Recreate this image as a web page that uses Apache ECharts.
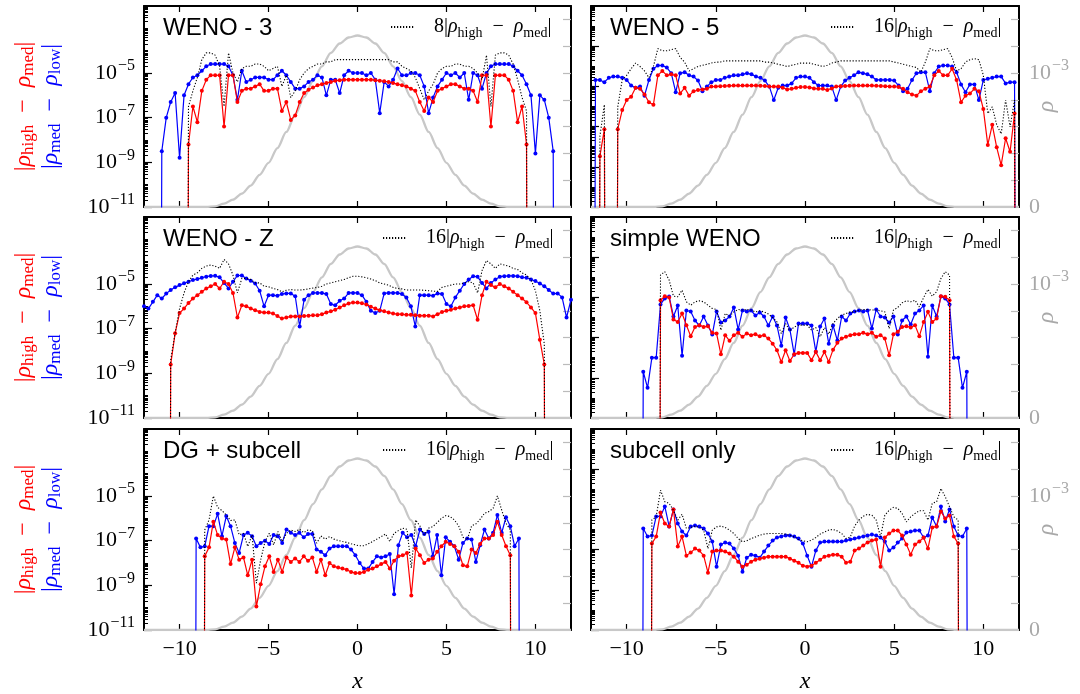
<!DOCTYPE html>
<html>
<head>
<meta charset="utf-8">
<script src="https://cdn.jsdelivr.net/npm/echarts@6/dist/echarts.min.js"></script>
<style>
  html, body { margin: 0; padding: 0; background: #fff; }
  #chart { width: 1080px; height: 694px; }
</style>
</head>
<body>
<div id="chart"></div>
<script>
// values are log10 of the differences; Z marks a difference of exactly 0 (log = -inf)
var Z = null;
var FLOOR = -80;

var X_TICKS = [-10, -5, 0, 5, 10];
var LEFT_LOG_MAJOR = [-11, -9, -7, -5];
var RIGHT_LOG_MAJOR = [-12, -10, -8, -6, -4];
var RHO_TICKS = [0.2, 0.4, 0.6, 0.8, 1.0, 1.2, 1.4];   // in units of 1e-3
var RHO_LABELS = [0, 1];

var TITLES = ['WENO - 3', 'WENO - 5', 'WENO - Z', 'simple WENO', 'DG + subcell', 'subcell only'];
var FACTORS = ['8', '16', '16', '16', '16', '16'];

var DX_C = 0.25;     // WENO grids
var DX_F = 0.2419;   // simple WENO / subcell grids

// density profile (units of 1e-3), x from -12 to 12 step 0.5
var RHO_X0 = -12, RHO_DX = 0.5;
var RHO = [0, 0, 0, 0, 0, 0, 0, 0, 0.005, 0.025, 0.055, 0.10, 0.16, 0.24, 0.33, 0.44, 0.56,
  0.69, 0.82, 0.94, 1.05, 1.15, 1.22, 1.265, 1.28, 1.265, 1.22, 1.15, 1.05, 0.94, 0.82, 0.69,
  0.56, 0.44, 0.33, 0.24, 0.16, 0.10, 0.055, 0.025, 0.005, 0, 0, 0, 0, 0, 0, 0, 0];

// WENO - 3
var W3_BLUE_X0 = -11.25;
var W3_BLUE = [Z, -8.5, -7.0, -6.3, -5.9, -8.8, -6.0, -5.5, -5.2, -5.1, -4.9,
  -4.7, -4.6, -4.6, -4.6, -4.6, -4.7, -5.1, -6.2, -4.9, -5.4,
  -5.3, -5.2, -5.2, -5.2, -5.3, -5.3, -5.1, -4.9, -5.1, -5.4,
  -5.7, -5.7, -5.6, -5.4, -5.3, -5.1, -5.2, -6.0, -5.3, -5.3,
  -5.9, -5.1, -4.9, -5.0, -5.0, -5.0, -5.1, -5.0, -5.3,
  -6.8, -5.4, -5.6, -5.3, -4.8, -5.1, -5.1, -5.0, -5.0, -5.1,
  -5.6, -6.8, -6.1, -5.6, -5.3, -5.0, -5.1, -5.0, -5.2, -5.0,
  -6.2, -5.0, -5.1, -5.7, -5.0, -4.7, -4.6, -4.6, -4.6, -4.6,
  -4.7, -4.9, -5.1, -5.5, -6.0, -8.6, -6.0, -6.2, -7.0, -8.5, Z];
var W3_RED_X0 = -9.75;
var W3_RED = [Z, -8.2, -6.5, -7.2, -5.8, -5.3, -5.1, -5.1, -5.1, -7.4, -5.1,
  -5.1, -6.3, -5.8, -5.7, -5.7, -5.6, -5.5, -5.8, -5.8, -5.7,
  -5.7, -6.7, -6.3, -7.1, -6.9, -6.3, -5.9, -5.75, -5.65, -5.55,
  -5.5, -5.45, -5.4, -5.35, -5.32, -5.3, -5.3, -5.3, -5.3, -5.3,
  -5.3, -5.3, -5.32, -5.35, -5.37, -5.4, -5.45, -5.5, -5.55, -5.6,
  -5.7, -5.8, -6.3, -6.7, -6.1, -6.3, -5.8, -5.7, -5.6, -5.5,
  -5.5, -5.6, -5.7, -5.7, -5.8, -6.3, -5.1, -5.1, -7.4, -5.1,
  -5.1, -5.1, -5.3, -5.8, -7.2, -6.5, -8.2, Z];
var W3_DOT = [Z, -6.5, -5.8, -5.2, -4.4, -4.1, -4.1, -4.2, -4.7, -6.5, -4.1,
  -5.0, -5.4, -4.8, -4.7, -4.7, -4.6, -4.6, -4.7, -4.9, -4.8,
  -4.7, -5.6, -5.1, -6.1, -5.8, -5.3, -5.0, -4.8, -4.7, -4.6,
  -4.6, -4.5, -4.5, -4.4, -4.4, -4.4, -4.4, -4.4, -4.4, -4.4,
  -4.4, -4.4, -4.4, -4.4, -4.4, -4.4, -4.5, -4.5, -4.7, -4.8,
  -4.9, -5.2, -5.7, -6.2, -5.8, -5.5, -5.0, -4.8, -4.7, -4.7,
  -4.6, -4.6, -4.7, -4.7, -4.8, -5.0, -5.3, -4.2, -6.5, -4.2,
  -4.1, -4.1, -4.2, -4.6, -5.3, -6.1, -6.7, Z];

// WENO - 5
var W5_BLUE_X0 = -12;
var W5_BLUE = [Z, -5.68, -5.68, -5.79, -5.57, -5.51, -5.51, -5.57, -5.68, -5.96, -6.07,
  -6.01, -6.46, -5.68, -5.12, -4.96, -4.96, -5.06, -5.34, -6.29, -5.34,
  -5.3, -5.45, -5.51, -5.71, -6.24, -6.01, -5.79, -5.68, -5.68, -5.57,
  -5.51, -5.45, -5.45, -5.4, -5.34, -5.4, -5.51, -5.57, -5.71, -6.01,
  -6.68, -6.07, -5.96, -5.96, -5.85, -5.57, -5.51, -5.51, -5.57, -5.79,
  -5.96, -5.96, -5.96, -6.01, -6.68, -6.01, -5.71, -5.57, -5.45, -5.3,
  -5.34, -5.4, -5.51, -5.68, -5.68, -5.68, -5.68, -5.71, -5.96, -6.24,
  -6.12, -5.68, -5.34, -5.3, -5.3, -6.24, -5.34, -5.01, -4.96, -4.96,
  -5.01, -5.3, -5.9, -6.29, -5.9, -5.9, -6.68, -5.68, -5.62, -5.57,
  -5.51, -5.51, -5.85, -5.79, -5.79, Z];
var W5_RED_X0 = -11.75;
var W5_RED = [Z, -9.47, -8.13, Z, Z, -8.13, -7.18, -6.68, -6.51, -6.07,
  -6.12, -6.4, -6.79, -6.91, -5.45, -5.23, -5.45, -5.4, -5.45, -6.35,
  -6.07, -6.46, -6.24, -6.18, -6.15, -6.12, -6.01, -6.01, -5.99, -5.98,
  -5.97, -5.96, -5.96, -5.96, -5.96, -5.96, -5.96, -5.97, -5.98, -6.01,
  -6.01, -6.01, -6.07, -6.15, -6.12, -6.07, -6.03, -6.03, -6.05, -6.1,
  -6.12, -6.12, -6.18, -6.1, -6.01, -5.99, -5.98, -5.97, -5.96, -5.96,
  -5.96, -5.96, -5.96, -5.97, -5.98, -5.99, -6.01, -6.01, -6.03, -6.12,
  -6.29, -6.4, -6.46, -6.24, -6.12, -6.01, -5.45, -5.23, -5.45, -5.45,
  -5.12, -5.68, -6.79, -6.46, -6.35, -6.12, -6.24, -7.13, -8.91, -7.91,
  -9.03, -9.92, -8.58, -9.25, -7.35, Z];
var W5_DOT = [Z, -8.47, -6.91, Z, Z, -7.02, -5.68, -5.45, -5.12, -4.84,
  -5.01, -5.23, -5.57, -5.01, -4.12, -4.23, -4.23, -4.17, -4.12, -4.56,
  -4.79, -5.23, -5.12, -5.01, -4.95, -4.9, -4.84, -4.79, -4.79, -4.73,
  -4.73, -4.73, -4.73, -4.73, -4.73, -4.73, -4.73, -4.73, -4.79, -4.79,
  -4.84, -4.9, -4.95, -5.01, -4.95, -4.9, -4.84, -4.84, -4.84, -4.9,
  -4.95, -5.01, -4.95, -4.84, -4.79, -4.73, -4.73, -4.73, -4.73, -4.73,
  -4.73, -4.73, -4.73, -4.73, -4.73, -4.73, -4.73, -4.79, -4.84, -4.9,
  -4.95, -5.01, -5.06, -5.29, -4.79, -4.12, -4.23, -4.23, -4.17, -4.12,
  -4.56, -5.23, -5.12, -4.79, -4.67, -4.62, -4.67, -5.45, -7.35, -7.02,
  -7.91, -8.36, -6.68, -8.02, -6.68, Z];

// WENO - Z
var WZ_BLUE_X0 = -12;
var WZ_BLUE = [-6.0, -6.1, -5.8, -5.5, -5.65, -5.43, -5.27, -5.15, -5.05, -4.97,
  -4.9, -4.82, -4.78, -4.72, -4.67, -4.64, -4.63, -4.7, -4.95, -5.2,
  -4.9, -4.62, -4.62, -4.75, -4.85, -4.98, -5.3, -6.0, -5.5, -5.5,
  -5.53, -5.45, -5.42, -5.42, -5.55, -6.9, -5.7, -5.5, -5.4, -5.4,
  -5.4, -5.45, -5.9, -5.95, -5.75, -5.65, -5.4, -5.4, -5.4, -5.5,
  -5.8, -6.2, -6.3, -6.2, -5.42, -5.4, -5.4, -5.4, -5.45, -5.6,
  -6.0, -6.9, -5.5, -5.5, -5.5, -5.53, -5.42, -5.45, -5.9, -6.0,
  -5.6, -5.3, -5.0, -4.8, -4.65, -4.68, -4.95, -5.2, -4.95, -4.8,
  -4.67, -4.65, -4.64, -4.64, -4.65, -4.7, -4.72, -4.8, -4.87, -4.98,
  -5.1, -5.27, -5.43, -5.42, -5.6, -6.5, -5.7];
var WZ_RED_X0 = -10.75;
var WZ_RED = [Z, -8.6, -7.2, -6.3, -6.1, -5.85, -5.65, -5.5, -5.35, -5.2, -5.1,
  -5.0, -5.2, -4.9, -5.0, -5.4, -6.5, -5.95, -6.0, -6.1, -6.17,
  -6.25, -6.28, -6.28, -6.32, -6.43, -6.55, -6.5, -6.45, -6.45, -6.45,
  -6.43, -6.42, -6.4, -6.4, -6.35, -6.28, -6.22, -6.15, -6.05, -5.95,
  -5.87, -5.83, -5.83, -5.86, -5.92, -6.02, -6.1, -6.17, -6.22, -6.28,
  -6.32, -6.35, -6.35, -6.38, -6.38, -6.4, -6.42, -6.42, -6.42, -6.45,
  -6.35, -6.25, -6.2, -6.15, -6.1, -6.05, -6.0, -5.98, -5.95, -6.6,
  -5.5, -4.9, -5.05, -5.15, -5.0, -5.1, -5.2, -5.35, -5.5, -5.65,
  -5.82, -6.05, -6.3, -7.5, -8.6, Z];
var WZ_DOT = [Z, -8.4, -7.2, -6.1, -5.4, -4.9, -4.6, -4.5, -4.3, -4.2, -4.15,
  -4.2, -4.3, -3.9, -4.1, -4.6, -5.4, -4.75, -4.75, -4.8, -4.95,
  -4.95, -5.1, -5.12, -5.2, -5.25, -5.35, -5.28, -5.25, -5.27, -5.27,
  -5.25, -5.22, -5.18, -5.15, -5.1, -5.0, -4.95, -4.9, -4.85, -4.8,
  -4.72, -4.65, -4.65, -4.68, -4.72, -4.78, -4.85, -4.95, -5.0, -5.05,
  -5.15, -5.2, -5.22, -5.27, -5.27, -5.27, -5.27, -5.28, -5.3, -5.32,
  -5.33, -5.15, -5.1, -5.05, -5.0, -5.0, -4.95, -4.9, -4.95, -5.4,
  -4.4, -3.95, -4.1, -4.3, -4.1, -4.15, -4.2, -4.3, -4.35, -4.5,
  -4.6, -4.8, -5.3, -6.2, -7.7, Z];

// simple WENO
var SW_BLUE_X0 = -9.312;
var SW_BLUE = [Z, -9.7, -10.5, -9.0, -9.0, -6.35, -6.05, -5.95, -6.95, -6.4, -8.9,
  -6.65, -6.7, -7.15, -7.4, -6.95, -7.4, -7.85, -6.7, -7.25, -7.15,
  -6.95, -6.5, -7.6, -6.65, -6.7, -6.65, -6.9, -6.75, -6.95, -7.4,
  -6.95, -7.4, -8.4, -7.0, -7.6, -8.85, -7.3, -7.3, -7.3, -7.4,
  -8.7, -7.45, -7.05, -8.3, -7.4, -8.15, -6.95, -7.15, -6.8, -6.7,
  -6.65, -6.7, -6.65, -7.55, -6.6, -6.95, -7.0, -7.25, -6.95, -7.85,
  -7.15, -6.95, -7.35, -6.8, -6.65, -6.4, -8.95, -6.4, -6.95, -5.95,
  -6.05, -6.35, -9.0, -9.0, -10.5, -9.7, Z];
var SW_RED_X0 = -8.344;
var SW_RED = [Z, -6.14, -5.94, -6.0, -7.1, -7.22, -6.8, -7.38, -7.93, -7.47, -7.38,
  -7.47, -7.43, -7.76, -7.8, -8.83, -7.88, -8.16, -7.88, -7.76, -7.96,
  -7.8, -7.88, -7.83, -7.93, -7.88, -8.05, -8.3, -8.63, -9.21, -8.63,
  -9.16, -8.83, -8.76, -8.76, -8.76, -9.13, -8.71, -9.13, -8.71, -9.21,
  -8.6, -8.26, -8.05, -7.96, -7.88, -7.83, -7.83, -7.76, -7.83, -7.76,
  -7.96, -7.88, -8.05, -8.88, -7.83, -7.71, -7.47, -7.43, -7.5, -7.38,
  -7.93, -7.22, -6.72, -7.22, -7.05, -5.94, -5.97, -6.14, Z];
var SW_DOT = [Z, -4.89, -4.72, -5.14, -5.94, -5.97, -5.64, -6.22, -6.39, -6.22, -6.17,
  -6.22, -6.39, -6.55, -6.6, -7.63, -6.8, -6.93, -6.72, -6.6, -6.63,
  -6.6, -6.63, -6.72, -6.67, -6.72, -6.83, -7.0, -7.22, -7.8, -7.3,
  -7.66, -7.47, -7.38, -7.38, -7.38, -7.63, -7.5, -7.96, -7.5, -7.83,
  -7.3, -7.05, -6.88, -6.8, -6.72, -6.72, -6.63, -6.6, -6.6, -6.63,
  -6.63, -6.67, -6.72, -7.55, -6.63, -6.5, -6.27, -6.17, -6.22, -6.14,
  -6.47, -6.0, -5.6, -5.94, -5.72, -5.06, -4.72, -4.89, Z];

// DG + subcell
var DG_BLUE_X0 = -9.312;
var DG_BLUE = [Z, -6.9, -7.3, -7.25, -6.35, -6.35, -5.8, -6.8, -5.9, -6.35, -7.1,
  -7.55, -6.75, -6.65, -6.8, -7.25, -7.1, -7.0, -7.15, -6.75, -6.8,
  -7.1, -6.5, -6.65, -6.75, -6.65, -6.85, -6.7, -6.7, -7.4, -7.5,
  -7.65, -7.35, -7.25, -7.25, -7.25, -7.25, -7.4, -7.65, -8.0, -8.25,
  -8.25, -7.95, -7.7, -7.75, -7.7, -7.6, -9.4, -7.2, -6.65, -6.85,
  -6.75, -7.25, -6.5, -6.7, -6.6, -7.7, -6.75, -8.55, -6.85, -7.05,
  -7.25, -7.85, -7.1, -6.9, -6.95, -7.95, -7.2, -6.5, -6.9, -6.65,
  -5.85, -6.65, -5.95, -6.35, -7.25, -6.9, Z];
var DG_RED_X0 = -8.828;
var DG_RED = [Z, -7.7, -7.3, -6.15, -6.75, -6.9, -6.95, -8.05, -7.3, -7.85, -7.75,
  -8.55, -7.85, -9.95, -8.95, -8.15, -7.7, -8.4, -7.85, -8.4, -7.75,
  -7.95, -7.8, -7.95, -7.7, -7.9, -7.75, -8.4, -7.85, -8.55, -8.0,
  -8.15, -8.2, -8.25, -8.3, -8.4, -8.45, -8.45, -8.4, -8.3, -8.25,
  -8.15, -8.05, -7.95, -8.25, -7.9, -7.7, -7.65, -7.55, -9.45, -7.35,
  -7.65, -8.0, -7.85, -7.8, -7.5, -7.25, -7.05, -7.15, -7.25, -7.5,
  -8.1, -8.15, -7.4, -7.55, -7.15, -6.9, -6.9, -6.75, -6.15, -6.75,
  -7.25, -7.65, Z];
var DG_DOT = [Z, -6.52, -6.07, -5.0, -5.51, -5.65, -5.85, -6.1, -6.07, -6.74, -6.67,
  -7.26, -6.74, -8.9, -7.86, -7.04, -6.67, -7.19, -6.59, -7.04, -6.67,
  -6.52, -6.59, -6.49, -6.64, -6.52, -6.55, -7.11, -6.79, -6.93, -6.82,
  -6.93, -6.99, -7.04, -7.08, -7.14, -7.19, -7.23, -7.23, -7.14, -7.04,
  -6.93, -6.82, -6.7, -7.04, -6.67, -6.55, -6.44, -6.49, -8.23, -6.07,
  -6.34, -6.74, -6.44, -6.37, -6.19, -6.0, -5.88, -5.92, -6.07, -6.34,
  -6.85, -6.96, -6.34, -6.25, -6.04, -5.77, -5.7, -5.55, -5.0, -5.63,
  -6.22, -6.52, Z];

// subcell only
var SC_BLUE_X0 = -9.312;
var SC_BLUE = [Z, -6.95, -7.35, -7.3, -6.35, -6.35, -5.85, -6.85, -6.0, -6.7, -7.1,
  -7.3, -6.85, -6.8, -6.85, -6.95, -7.2, -7.6, -8.85, -7.75, -7.65,
  -7.7, -7.95, -8.3, -9.1, -8.4, -8.25, -8.3, -8.4, -8.1, -7.8,
  -7.55, -7.4, -7.35, -7.3, -7.3, -7.35, -7.45, -7.7, -8.3, -8.85,
  -8.05, -7.65, -7.6, -7.6, -7.6, -7.6, -7.6, -7.55, -7.5, -7.45,
  -7.4, -7.35, -7.3, -7.25, -7.3, -7.4, -7.6, -8.05, -7.9, -7.65,
  -7.45, -7.15, -7.1, -7.05, -7.05, -7.4, -7.3, -6.4, -6.85, -5.85,
  -6.6, -6.0, -6.85, -7.3, -7.35, -6.95, Z];
var SC_RED_X0 = -8.828;
var SC_RED = [Z, -7.7, -7.35, -6.15, -6.7, -6.85, -6.0, -7.85, -7.35, -8.3, -8.15,
  -7.95, -8.05, -8.3, -9.15, -8.1, -8.05, -8.05, -8.1, -8.2, -8.35,
  -8.6, -8.85, -8.75, -8.6, -8.5, -8.45, -8.4, -8.35, -8.35, -8.35,
  -8.35, -8.35, -8.45, -8.55, -8.65, -8.8, -8.85, -8.8, -8.65, -8.5,
  -8.35, -8.3, -8.25, -8.25, -8.35, -8.65, -8.6, -8.05, -7.95, -7.8,
  -7.65, -7.55, -7.5, -8.85, -7.4, -7.2, -7.05, -7.05, -7.3, -7.75,
  -8.25, -7.75, -7.6, -7.4, -7.95, -6.9, -6.85, -6.1, -6.45, -6.3,
  -7.35, -7.7, Z];
var SC_DOT = [Z, -6.53, -6.37, -5.04, -5.62, -5.7, -6.04, -6.53, -6.24, -6.95, -6.9,
  -6.83, -6.9, -7.03, -7.95, -7.03, -6.87, -6.83, -6.9, -7.03, -7.2,
  -7.45, -7.61, -7.56, -7.45, -7.37, -7.28, -7.23, -7.2, -7.2, -7.2,
  -7.2, -7.23, -7.28, -7.37, -7.5, -7.56, -7.61, -7.53, -7.4, -7.23,
  -7.12, -7.03, -7.0, -7.07, -7.2, -7.45, -7.37, -6.83, -6.53, -6.34,
  -6.25, -6.29, -6.53, -7.37, -6.29, -6.04, -5.9, -5.95, -6.2, -6.62,
  -6.37, -6.2, -6.07, -6.07, -6.53, -5.7, -5.62, -4.96, -5.37, -5.87,
  -6.37, -6.53, Z];

var PANELS = [
  { blue: [W3_BLUE_X0, DX_C, W3_BLUE], red: [W3_RED_X0, DX_C, W3_RED], dot: W3_DOT },
  { blue: [W5_BLUE_X0, DX_C, W5_BLUE], red: [W5_RED_X0, DX_C, W5_RED], dot: W5_DOT },
  { blue: [WZ_BLUE_X0, DX_C, WZ_BLUE], red: [WZ_RED_X0, DX_C, WZ_RED], dot: WZ_DOT },
  { blue: [SW_BLUE_X0, DX_F, SW_BLUE], red: [SW_RED_X0, DX_F, SW_RED], dot: SW_DOT },
  { blue: [DG_BLUE_X0, DX_F, DG_BLUE], red: [DG_RED_X0, DX_F, DG_RED], dot: DG_DOT },
  { blue: [SC_BLUE_X0, DX_F, SC_BLUE], red: [SC_RED_X0, DX_F, SC_RED], dot: SC_DOT }
];

// layout
var GRID_LEFT = [144, 591];
var GRID_W = [427, 428];
var GRID_TOP = [6, 217, 429];
var GRID_H = 201;
var MATH = 'Liberation Serif';
var GRAY_TXT = '#a8a8a8';

function pts(x0, dx, vals) {
  return vals.map(function (v, i) {
    return [x0 + i * dx, v === null ? FLOOR : v];
  });
}

function minorTicks(lo, hi, majors) {
  var out = [];
  for (var n = lo; n < hi; n++) {
    for (var k = 1; k < 10; k++) {
      if (k === 1 && majors.indexOf(n) >= 0) continue;
      out.push(n + Math.log10(k));
    }
  }
  return out;
}

function powRich(color) {
  return {
    b: { fontFamily: MATH, fontSize: 22, lineHeight: 30, color: color },
    s: { fontFamily: MATH, fontSize: 16, lineHeight: 15, verticalAlign: 'top', color: color, padding: [0, 0, 0, 1] }
  };
}

function mathRich(size, sub, lh, color, p) {
  var r = {};
  r[p + 'n'] = { fontFamily: MATH, fontSize: size, lineHeight: lh, color: color };
  r[p + 'i'] = { fontFamily: MATH, fontSize: size, lineHeight: lh, fontStyle: 'italic', color: color };
  r[p + 's'] = { fontFamily: MATH, fontSize: sub, lineHeight: 16, verticalAlign: 'bottom', color: color };
  return r;
}

var legRich = mathRich(20, 14, 26, '#000', '');
legRich.sp = { width: 15 };

var nameRich = Object.assign({}, mathRich(24, 17, 27, '#ff0000', 'r'), mathRich(24, 17, 27, '#0000ff', 'b'));
var Y_NAME = '{rn||}{ri|ρ}{rs|high}{rn|\u2002\u2212\u2002}{ri|ρ}{rs|med}{rn||}\n' +
             '{bn||}{bi|ρ}{bs|med}{bn|\u2002\u2212\u2002}{bi|ρ}{bs|low}{bn||}';

function fmtX(v) { return v < 0 ? '\u2212' + (-v) : String(v); }
function fmtLog(v) { return '{b|10}{s|\u2212' + Math.round(-v) + '}'; }
function fmtRho(v) {
  if (Math.abs(v) < 1e-9) return '{b|0}';
  if (Math.abs(v - 1) < 1e-9) return '{b|10}{s|\u22123}';
  return '';
}

var grids = [], xAxes = [], yAxes = [], series = [], titles = [], legends = [];
var frame = { onZero: false, lineStyle: { color: '#000', width: 2 } };

PANELS.forEach(function (p, k) {
  var col = k % 2, row = Math.floor(k / 2);
  var top = GRID_TOP[row];
  var yMin = col === 0 ? -11 : -12;
  var majors = col === 0 ? LEFT_LOG_MAJOR : RIGHT_LOG_MAJOR;
  var bottomRow = row === 2;

  grids.push({ left: GRID_LEFT[col], top: top, width: GRID_W[col], height: GRID_H, outerBoundsMode: 'none', containLabel: false });

  xAxes.push({
    gridIndex: k, type: 'value', min: -12, max: 12, position: 'bottom',
    axisLine: frame,
    axisTick: { inside: true, length: 6, customValues: X_TICKS, lineStyle: { color: '#000', width: 1.2 } },
    axisLabel: { show: bottomRow, customValues: X_TICKS, formatter: fmtX, fontFamily: MATH, fontSize: 22, color: '#000', margin: 8 },
    splitLine: { show: false },
    name: bottomRow ? 'x' : '', nameLocation: 'middle', nameGap: 40, nameMoveOverlap: false,
    nameTextStyle: { fontFamily: MATH, fontStyle: 'italic', fontSize: 24, color: '#000' }
  });
  xAxes.push({
    gridIndex: k, type: 'value', min: -12, max: 12, position: 'top',
    axisLine: frame,
    axisTick: { inside: true, length: 6, customValues: X_TICKS, lineStyle: { color: '#000', width: 1.2 } },
    axisLabel: { show: false }, splitLine: { show: false }
  });

  yAxes.push({
    gridIndex: k, type: 'value', min: yMin, max: -2, position: 'left',
    axisLine: frame,
    axisTick: { inside: true, length: 8, customValues: majors, lineStyle: { color: '#000', width: 1.2 } },
    axisLabel: { show: col === 0, customValues: LEFT_LOG_MAJOR, formatter: fmtLog, rich: powRich('#000'), margin: 9 },
    splitLine: { show: false },
    name: col === 0 ? Y_NAME : '', nameLocation: 'middle', nameRotate: 90, nameGap: 80, nameMoveOverlap: false,
    nameTextStyle: { rich: nameRich }
  });
  yAxes.push({
    gridIndex: k, type: 'value', min: yMin, max: -2, position: 'left',
    axisLine: { show: false, onZero: false },
    axisTick: { inside: true, length: 4, customValues: minorTicks(yMin, -2, majors), lineStyle: { color: '#000', width: 1 } },
    axisLabel: { show: false }, splitLine: { show: false }
  });
  yAxes.push({
    gridIndex: k, type: 'value', min: 0, max: 1.5, position: 'right',
    axisLine: frame,
    axisTick: { inside: true, length: 8, customValues: RHO_TICKS, lineStyle: { color: '#bbbbbb', width: 1.2 } },
    axisLabel: { show: col === 1, customValues: RHO_LABELS, formatter: fmtRho, rich: powRich(GRAY_TXT), margin: 10 },
    splitLine: { show: false },
    name: col === 1 ? 'ρ' : '', nameLocation: 'middle', nameRotate: 90, nameGap: 16, nameMoveOverlap: false,
    nameTextStyle: { fontFamily: MATH, fontStyle: 'italic', fontSize: 24, color: GRAY_TXT }
  });

  var xi = 2 * k, yi = 3 * k;
  series.push({
    type: 'line', xAxisIndex: xi, yAxisIndex: yi + 2, z: 1,
    data: pts(RHO_X0, RHO_DX, RHO), symbol: 'none', smooth: 0.3, smoothMonotone: 'x',
    lineStyle: { color: '#c8c8c8', width: 2.3 }, silent: true
  });
  series.push({
    type: 'line', xAxisIndex: xi, yAxisIndex: yi, z: 2,
    data: pts(p.blue[0], p.blue[1], p.blue[2]),
    symbol: 'circle', symbolSize: 4, showAllSymbol: true,
    itemStyle: { color: '#0000ff' }, lineStyle: { color: '#0000ff', width: 1.2 }
  });
  series.push({
    type: 'line', xAxisIndex: xi, yAxisIndex: yi, z: 3,
    data: pts(p.red[0], p.red[1], p.red[2]),
    symbol: 'circle', symbolSize: 4, showAllSymbol: true,
    itemStyle: { color: '#ff0000' }, lineStyle: { color: '#ff0000', width: 1.2 }
  });
  series.push({
    name: 'dot' + k, type: 'line', xAxisIndex: xi, yAxisIndex: yi, z: 4,
    data: pts(p.red[0], p.red[1], p.dot), symbol: 'none',
    itemStyle: { color: '#000' },
    lineStyle: { color: '#000', width: 1.1, type: [1.2, 1.8] }
  });

  titles.push({
    text: TITLES[k], left: GRID_LEFT[col] + 19, top: top + 10, padding: 0,
    textStyle: { fontFamily: 'Liberation Sans', fontSize: 24, fontWeight: 'normal', color: '#000' }
  });

  legends.push({
    data: ['dot' + k], selectedMode: false, padding: 0,
    left: col === 0 ? (k === 0 ? 390 : 382) : 830, top: top + 11,
    itemWidth: 23, itemHeight: 10,
    itemStyle: { opacity: 0 },
    formatter: function () {
      return '{sp| }{n|' + FACTORS[k] + '|}{i|ρ}{s|high}{n|\u2002\u2212\u2002}{i|ρ}{s|med}{n||}';
    },
    textStyle: { rich: legRich }
  });
});

var chart = echarts.init(document.getElementById('chart'));
chart.setOption({
  animation: false,
  backgroundColor: '#fff',
  title: titles,
  legend: legends,
  grid: grids,
  xAxis: xAxes,
  yAxis: yAxes,
  series: series
});
</script>
</body>
</html>
